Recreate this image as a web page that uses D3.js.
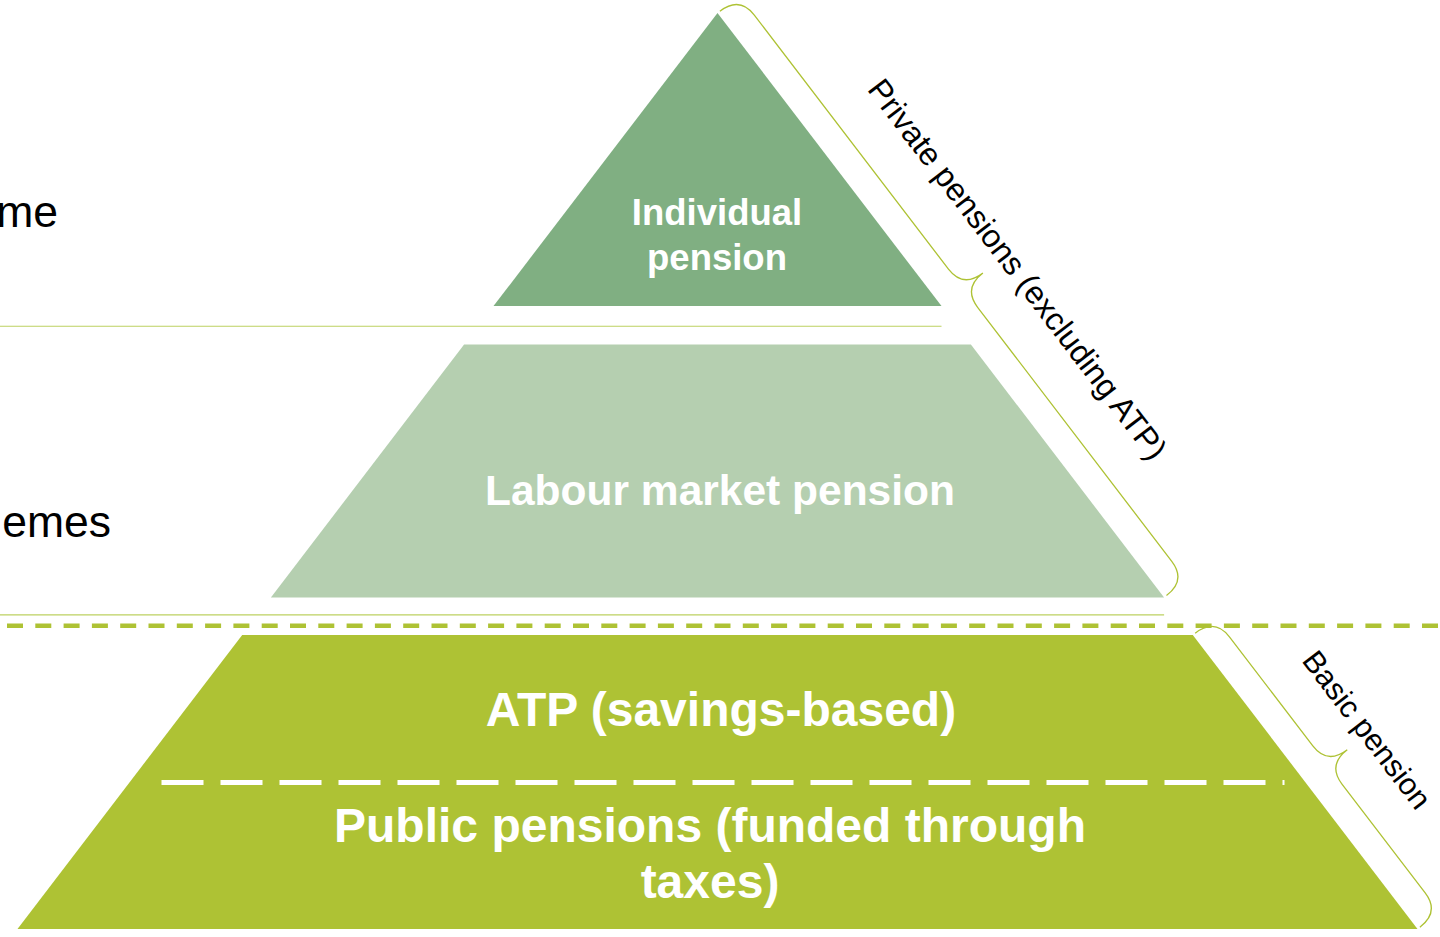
<!DOCTYPE html>
<html>
<head>
<meta charset="utf-8">
<script src="https://cdn.jsdelivr.net/npm/d3@7"></script>
<style>
body { margin: 0; background: #fff; overflow: hidden; }
svg { display: block; font-family: "Liberation Sans", Arial, sans-serif; }
</style>
</head>
<body>
<div class="pyramidChart"></div>
<script>
// tiers, measured as % of pyramid height from the apex
var tierNames = ["Individual pension", "Labour market pension", "Basic pension"];
var tierTop = [0, 36.2, 67.9];
var tierBottom = [32, 63.8, 100];
var tierColors = ["#80AF82", "#B5CFB0", "#AEC234"];

var labelLines = [["Individual", "pension"], ["Labour market pension"], ["ATP (savings-based)"], ["Public pensions (funded through", "taxes)"]];
var sideLabels = ["Individual scheme", "Labour market schemes"];

var braceLabels = ["Private pensions (excluding ATP)", "Basic pension"];
var braceFrom = [0, 67.9];
var braceTo = [63.8, 100];

var ruleLevels = [34.2, 65.7];
var dashLevel = 66.9;
var splitLevel = 84.0;

var width = 1440, height = 937, cx = 717.5;
var svg = d3.select(".pyramidChart").append("svg").attr("width", width).attr("height", height);

var y = d3.scaleLinear().domain([0, 100]).range([13, 929]);
var half = d3.scaleLinear().domain([0, 100]).range([0, 700]);
function left(v) { return cx - half(v); }
function right(v) { return cx + half(v); }

// thin separators + dashed line
svg.selectAll("line.rule").data(ruleLevels).enter().append("line")
    .attr("x1", 0).attr("x2", function(d, i) { return right(tierBottom[i]); })
    .attr("y1", function(d) { return y(d); }).attr("y2", function(d) { return y(d); })
    .attr("stroke", "#BCD160").attr("stroke-width", 1.2);

svg.append("line").attr("x1", 7).attr("x2", width)
    .attr("y1", y(dashLevel)).attr("y2", y(dashLevel))
    .attr("stroke", "#AEC234").attr("stroke-width", 4.5).attr("stroke-dasharray", "16,12.3");

// tiers
var line = d3.line();
svg.selectAll("path.tier").data(tierNames).enter().append("path").attr("class", "tier")
    .attr("d", function(d, i) {
        var t = tierTop[i], b = tierBottom[i];
        return line([[left(t), y(t)], [right(t), y(t)], [right(b), y(b)], [left(b), y(b)]]) + "Z";
    })
    .attr("fill", function(d, i) { return tierColors[i]; });

svg.append("line").attr("x1", left(splitLevel) + 32).attr("x2", right(splitLevel) - 21)
    .attr("y1", y(splitLevel)).attr("y2", y(splitLevel))
    .attr("stroke", "#fff").attr("stroke-width", 5).attr("stroke-dasharray", "42,17");

// tier labels
var labelLayout = [{x: 717, y: 225, size: 36.5, lh: 45}, {x: 720, y: 505, size: 42.5, lh: 0},
    {x: 721, y: 726, size: 48, lh: 0}, {x: 710, y: 842, size: 48, lh: 56}];
labelLines.forEach(function(lines, i) {
    var p = labelLayout[i];
    var t = svg.append("text").attr("text-anchor", "middle").attr("fill", "#fff")
        .attr("font-weight", "bold").attr("font-size", p.size + "px");
    lines.forEach(function(s, j) {
        t.append("tspan").attr("x", p.x).attr("y", p.y + j * p.lh).text(s);
    });
});

// left labels (cut off by the page edge, as in the source)
var sideLayout = [{x: 58, y: 227}, {x: 111, y: 537}];
svg.selectAll("text.side").data(sideLabels).enter().append("text")
    .attr("x", function(d, i) { return sideLayout[i].x; })
    .attr("y", function(d, i) { return sideLayout[i].y; })
    .attr("text-anchor", "end").attr("font-size", "44.5px").attr("fill", "#000")
    .text(function(d) { return d; });

// curly braces on the right side
function bracePath(L, b, h, r) {
    var m = L / 2;
    return "M0,0 Q0," + (-b) + " " + r + "," + (-b) +
        " L" + (m - r) + "," + (-b) + " Q" + m + "," + (-b) + " " + m + "," + (-h) +
        " Q" + m + "," + (-b) + " " + (m + r) + "," + (-b) +
        " L" + (L - r) + "," + (-b) + " Q" + L + "," + (-b) + " " + L + ",0";
}
var braceText = [{along: 18, perp: 80, size: 32}, {along: -4, perp: 78, size: 30.5}];
braceLabels.forEach(function(label, i) {
    var x1 = right(braceFrom[i]), y1 = y(braceFrom[i]);
    var x2 = right(braceTo[i]), y2 = y(braceTo[i]);
    var dx = x2 - x1, dy = y2 - y1, L = Math.sqrt(dx * dx + dy * dy);
    var ang = Math.atan2(dy, dx) * 180 / Math.PI;
    var ox = dy / L * 3, oy = -dx / L * 3;
    var g = svg.append("g").attr("transform", "translate(" + (x1 + ox) + "," + (y1 + oy) + ") rotate(" + ang + ")");
    g.append("path").attr("d", bracePath(L, 25, 50, 24))
        .attr("fill", "none").attr("stroke", "#AEC234").attr("stroke-width", 1.3);
    g.append("text").attr("x", L / 2 + braceText[i].along).attr("y", -braceText[i].perp)
        .attr("dy", "0.35em").attr("text-anchor", "middle").attr("font-size", braceText[i].size + "px").attr("fill", "#000")
        .text(label);
});
</script>
</body>
</html>
